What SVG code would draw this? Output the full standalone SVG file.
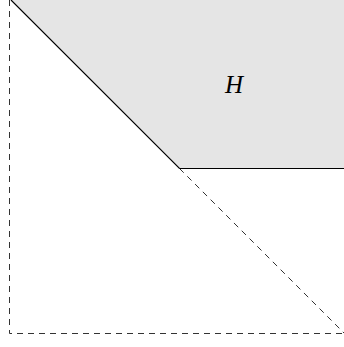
<svg xmlns="http://www.w3.org/2000/svg" width="344" height="347" viewBox="0 0 344 347">
<style>
.dash{fill:none;stroke:#333;stroke-width:1;stroke-dasharray:6 5}
.solid{fill:none;stroke:#000;stroke-width:1.2}
.lbl{font-family:"Liberation Serif","Times New Roman",serif;font-style:italic;font-size:25px;fill:#000}
</style>
<rect width="344" height="347" fill="#fff"/>
<g id="region-H">
<polygon points="11,0 179.5,168.5 344,168.5 344,0" fill="#e5e5e5"/>
<text class="lbl" x="234" y="93" text-anchor="middle">H</text>
</g>
<g id="connectors">
<polyline class="solid" points="11,0 179.5,168.5 344,168.5"/>
<line class="dash" x1="179.5" y1="168.5" x2="344" y2="333"/>
<polyline class="dash" points="9.5,0 9.5,333.5 344,333.5"/>
</g>
</svg>
